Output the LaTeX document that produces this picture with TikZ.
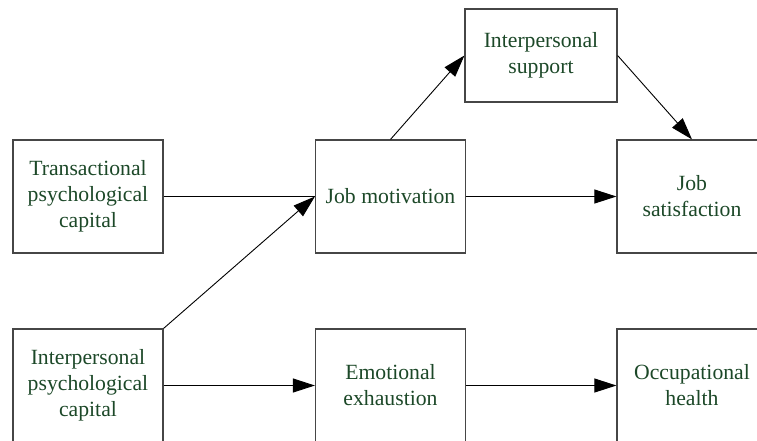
\documentclass[tikz,border=0pt]{standalone}
\usepackage{fontspec}
\setmainfont{Liberation Serif}
\usetikzlibrary{arrows.meta}
\definecolor{txtgreen}{RGB}{28,72,40}
\definecolor{boxgray}{RGB}{70,70,70}
\tikzset{
  box/.style={draw=boxgray, line width=1.2pt, rectangle, minimum width=150pt, minimum height=113pt,
    align=center, text=txtgreen, inner sep=0pt, font=\fontsize{21.7}{26}\selectfont},
  conn/.style={draw=black, line width=0.9pt},
  arr/.style={conn, -{Triangle[length=22pt,width=14pt]}}
}
\begin{document}
\begin{tikzpicture}[x=1pt,y=-1pt]
\useasboundingbox (0,0) rectangle (757,440);
\clip (0,0) rectangle (757,440);
\node[box] (tpc) at (88,196.5) {Transactional\\psychological\\capital};
\node[box] (jm) at (390.5,196.5) {Job motivation};
\node[box, minimum width=152pt, minimum height=93pt] (is) at (541,55.5) {Interpersonal\\support};
\node[box] (js) at (692,196.5) {Job\\satisfaction};
\node[box] (ipc) at (88,385.5) {Interpersonal\\psychological\\capital};
\node[box] (ee) at (390.5,385.5) {Emotional\\exhaustion};
\node[box] (oh) at (692,385.5) {Occupational\\health};
\draw[conn] (tpc.east) -- (jm.west);
\draw[arr] (ipc.north east) -- (jm.west);
\draw[arr] (jm.north) -- (is.west);
\draw[arr] (is.east) -- (js.north);
\draw[arr] (jm.east) -- (js.west);
\draw[arr] (ipc.east) -- (ee.west);
\draw[arr] (ee.east) -- (oh.west);
\end{tikzpicture}
\end{document}
